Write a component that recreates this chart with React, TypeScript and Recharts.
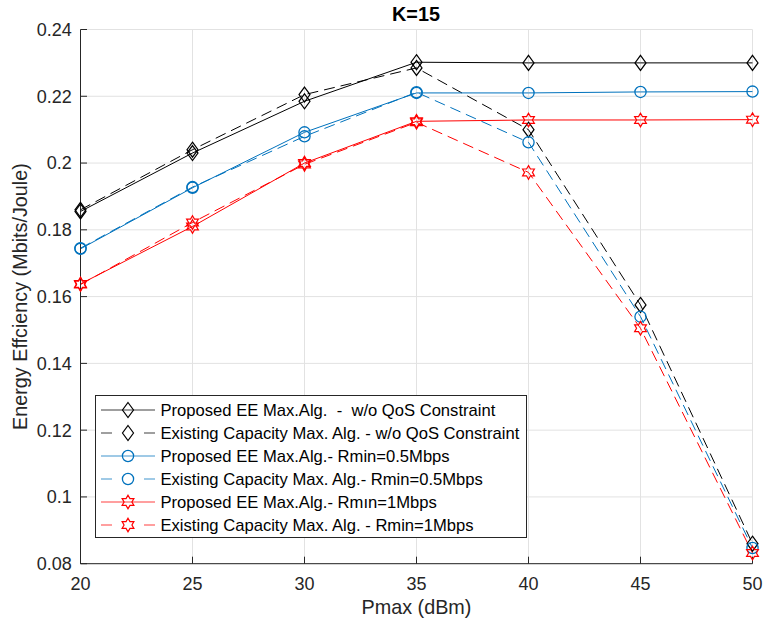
import React from 'react';
import { LineChart, Line, XAxis, YAxis, CartesianGrid, Legend } from 'recharts';

const pmax = [20, 25, 30, 35, 40, 45, 50];
const propNoQoS = [0.1855, 0.2030, 0.2185, 0.2302, 0.2300, 0.2300, 0.2300];
const existNoQoS = [0.1860, 0.2040, 0.2205, 0.2285, 0.2100, 0.1575, 0.0860];
const propR05 = [0.1743, 0.1926, 0.2092, 0.2210, 0.2210, 0.2213, 0.2214];
const existR05 = [0.1745, 0.1928, 0.2080, 0.2212, 0.2062, 0.1540, 0.0847];
const propR1 = [0.1638, 0.1810, 0.2000, 0.2125, 0.2129, 0.2129, 0.2130];
const existR1 = [0.1636, 0.1822, 0.1996, 0.2122, 0.1972, 0.1505, 0.0832];

const xTicks = [20, 25, 30, 35, 40, 45, 50];
const yTicks = [0.08, 0.1, 0.12, 0.14, 0.16, 0.18, 0.2, 0.22, 0.24];
const yTickLabels = ['0.08', '0.1', '0.12', '0.14', '0.16', '0.18', '0.2', '0.22', '0.24'];

const titleText = 'K=15';

const legendNames = [
  'Proposed EE Max.Alg.  -  w/o QoS Constraint',
  'Existing Capacity Max. Alg. - w/o QoS Constraint',
  'Proposed EE Max.Alg.- Rmin=0.5Mbps',
  'Existing Capacity Max. Alg.- Rmin=0.5Mbps',
  'Proposed EE Max.Alg.- Rmın=1Mbps',
  'Existing Capacity Max. Alg. - Rmin=1Mbps',
];

const seriesValues = [propNoQoS, existNoQoS, propR05, existR05, propR1, existR1];

const BLACK = '#000000';
const BLUE = '#0072BD';
const RED = '#FF0000';
const FONT = '"Liberation Sans", Arial, Helvetica, sans-serif';

type MarkerKind = 'diamond' | 'circle' | 'hexagram';

const seriesStyle: { color: string; dashed: boolean; marker: MarkerKind }[] = [
  { color: BLACK, dashed: false, marker: 'diamond' },
  { color: BLACK, dashed: true, marker: 'diamond' },
  { color: BLUE, dashed: false, marker: 'circle' },
  { color: BLUE, dashed: true, marker: 'circle' },
  { color: RED, dashed: false, marker: 'hexagram' },
  { color: RED, dashed: true, marker: 'hexagram' },
];

const data = pmax.map((x, i) => {
  const row: Record<string, number> = { x };
  seriesValues.forEach((vals, s) => {
    row['s' + s] = vals[i];
  });
  return row;
});

function hexagramPath(cx: number, cy: number, R: number) {
  const r = R / Math.sqrt(3);
  const pts: string[] = [];
  for (let k = 0; k < 12; k++) {
    const ang = -Math.PI / 2 + (k * Math.PI) / 6;
    const rad = k % 2 === 0 ? R : r;
    pts.push(`${(cx + rad * Math.cos(ang)).toFixed(2)},${(cy + rad * Math.sin(ang)).toFixed(2)}`);
  }
  return 'M' + pts.join('L') + 'Z';
}

function Marker({ kind, cx, cy, color }: { kind: MarkerKind; cx: number; cy: number; color: string }) {
  if (kind === 'diamond') {
    return (
      <path
        d={`M${cx},${cy - 7.5}L${cx + 5.5},${cy}L${cx},${cy + 7.5}L${cx - 5.5},${cy}Z`}
        fill="none"
        stroke={color}
        strokeWidth={1.2}
      />
    );
  }
  if (kind === 'circle') {
    return <circle cx={cx} cy={cy} r={5.6} fill="none" stroke={color} strokeWidth={1.3} />;
  }
  return <path d={hexagramPath(cx, cy, 6.8)} fill="none" stroke={color} strokeWidth={1.2} />;
}

const renderLegend = () => (
  <svg width={432} height={143} style={{ display: 'block', fontFamily: FONT }}>
    <rect x={0.5} y={0.5} width={431} height={142} fill="#ffffff" stroke="#262626" strokeWidth={1} />
    {seriesStyle.map((s, i) => {
      const cy = 15 + i * 23;
      return (
        <g key={i}>
          {s.dashed ? (
            <>
              <line x1={6} y1={cy} x2={17} y2={cy} stroke={s.color} strokeWidth={1} opacity={0.75} />
              <line x1={49} y1={cy} x2={60} y2={cy} stroke={s.color} strokeWidth={1} opacity={0.75} />
            </>
          ) : (
            <line x1={6} y1={cy} x2={60} y2={cy} stroke={s.color} strokeWidth={1} opacity={0.75} />
          )}
          <Marker kind={s.marker} cx={33} cy={cy} color={s.color} />
          <text x={65.5} y={cy + 5.9} fontSize={16.6} fill="#000" style={{ whiteSpace: 'pre' }}>
            {legendNames[i]}
          </text>
        </g>
      );
    })}
  </svg>
);

const noTick = () => <g />;

export default function App() {
  return (
    <div style={{ position: 'absolute', left: 0, top: 0, width: 765, height: 628, background: '#fff', fontFamily: FONT }}>
      <div
        style={{
          position: 'absolute',
          left: 0,
          top: 0,
          width: 832,
          height: 28,
          lineHeight: '28px',
          textAlign: 'center',
          fontSize: 19.8,
          fontWeight: 'bold',
          color: '#000',
          zIndex: 2,
          pointerEvents: 'none',
        }}
      >
        {titleText}
      </div>
      <LineChart width={765} height={628} data={data} margin={{ top: 29.5, right: 12.5, bottom: 0, left: 0 }}>
        <CartesianGrid stroke="#e2e2e2" strokeWidth={1} />
        <XAxis
          dataKey="x"
          type="number"
          domain={[20, 50]}
          ticks={xTicks}
          interval={0}
          height={64.3}
          tickSize={-7}
          tickMargin={21}
          stroke="#262626"
          tick={{ fill: '#262626', fontSize: 18 }}
          label={{ value: 'Pmax (dBm)', position: 'insideBottom', offset: 14, fill: '#262626', fontSize: 19.8 }}
        />
        <XAxis
          xAxisId="top"
          orientation="top"
          dataKey="x"
          type="number"
          domain={[20, 50]}
          ticks={xTicks}
          interval={0}
          height={0}
          tickSize={-7}
          tick={noTick}
          stroke="#262626"
        />
        <YAxis
          type="number"
          domain={[0.08, 0.24]}
          ticks={yTicks}
          interval={0}
          width={80.5}
          tickSize={-6.5}
          tickMargin={15.3}
          stroke="#262626"
          tick={{ fill: '#262626', fontSize: 18 }}
          tickFormatter={(v: number, i: number) => yTickLabels[i] ?? String(v)}
          label={{
            value: 'Energy Effciency (Mbits/Joule)',
            angle: -90,
            position: 'insideLeft',
            offset: 20,
            fill: '#262626',
            fontSize: 19.8,
            style: { textAnchor: 'middle' },
          }}
        />
        <YAxis
          yAxisId="right"
          orientation="right"
          type="number"
          domain={[0.08, 0.24]}
          ticks={yTicks}
          interval={0}
          width={0}
          tickSize={-6.5}
          tick={noTick}
          stroke="#262626"
        />
        {seriesStyle.map((s, i) => (
          <Line
            key={i}
            type="linear"
            dataKey={'s' + i}
            name={legendNames[i]}
            stroke={s.color}
            strokeWidth={1}
            strokeDasharray={s.dashed ? '11 6' : undefined}
            isAnimationActive={false}
            activeDot={false}
            dot={(p: any) => <Marker key={'m' + i + '-' + p.index} kind={s.marker} cx={p.cx} cy={p.cy} color={s.color} />}
          />
        ))}
        <Legend
          layout="vertical"
          align="center"
          verticalAlign="middle"
          content={renderLegend}
          wrapperStyle={{ left: 95, top: 395, width: 432, height: 143 }}
        />
      </LineChart>
    </div>
  );
}
